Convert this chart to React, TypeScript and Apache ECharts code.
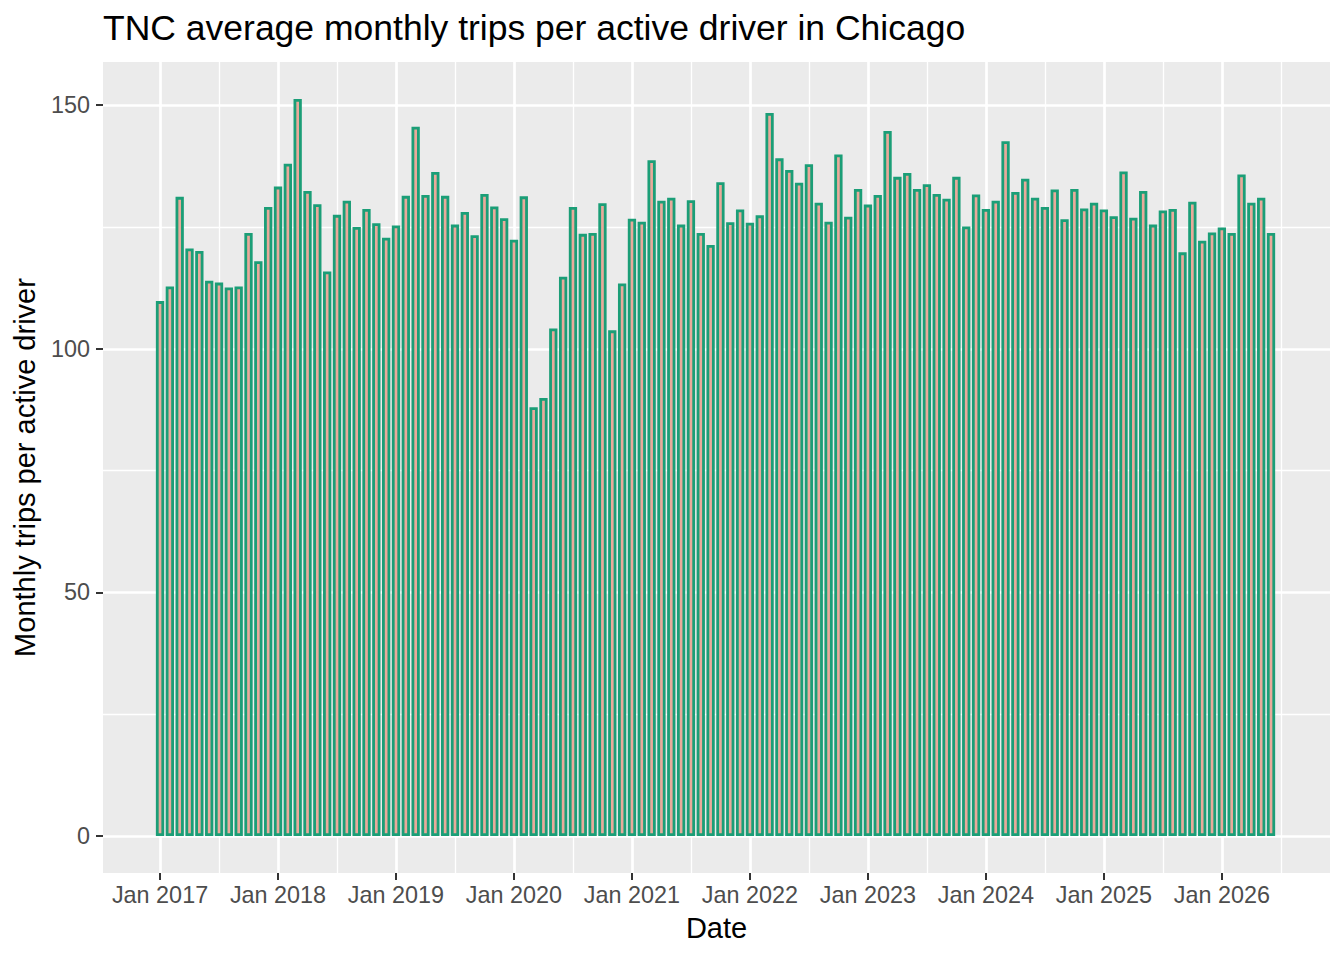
import React, { useEffect, useRef } from "react";
import * as echarts from "echarts";

const FONT = "'Liberation Sans', Arial, Helvetica, sans-serif";

const chartTitle = "TNC average monthly trips per active driver in Chicago";
const xAxisTitle = "Date";
const yAxisTitle = "Monthly trips per active driver";

// Monthly values, Jan 2017 .. Jun 2026
const trips2017 = [109.8, 112.8, 131.2, 120.6, 120.1, 114.0, 113.6, 112.6, 112.8, 123.8, 118.0, 129.1];
const trips2018 = [133.3, 138.0, 151.3, 132.4, 129.7, 115.9, 127.5, 130.4, 125.0, 128.7, 125.8, 122.8];
const trips2019 = [125.3, 131.4, 145.6, 131.6, 136.3, 131.4, 125.5, 128.1, 123.3, 131.8, 129.2, 126.8];
const trips2020 = [122.4, 131.3, 88.0, 89.9, 104.2, 114.8, 129.1, 123.6, 123.8, 129.9, 103.8, 113.4];
const trips2021 = [126.7, 126.1, 138.7, 130.4, 131.0, 125.5, 130.5, 123.8, 121.3, 134.2, 126.0, 128.6];
const trips2022 = [125.9, 127.4, 148.4, 139.1, 136.7, 134.1, 137.9, 130.0, 126.1, 139.9, 127.1, 132.8];
const trips2023 = [129.6, 131.6, 144.7, 135.3, 136.1, 132.8, 133.8, 131.8, 130.8, 135.3, 125.1, 131.7];
const trips2024 = [128.7, 130.4, 142.6, 132.2, 134.9, 131.0, 129.1, 132.7, 126.6, 132.8, 128.8, 130.0];
const trips2025 = [128.6, 127.2, 136.4, 126.9, 132.4, 125.5, 128.4, 128.7, 119.8, 130.2, 122.2, 123.9];
const trips2026 = [124.9, 123.8, 135.8, 130.0, 131.0, 123.8];

const monthlyTrips = [
  ...trips2017, ...trips2018, ...trips2019, ...trips2020, ...trips2021,
  ...trips2022, ...trips2023, ...trips2024, ...trips2025, ...trips2026,
];

// x positions are month indices counted from Jan 2017
const xMajorTicks = [0, 12, 24, 36, 48, 60, 72, 84, 96, 108];
const xTickLabels = ["Jan 2017", "Jan 2018", "Jan 2019", "Jan 2020", "Jan 2021", "Jan 2022", "Jan 2023", "Jan 2024", "Jan 2025", "Jan 2026"];
const xMinorTicks = [6, 18, 30, 42, 54, 66, 78, 90, 102, 114];
const yMajorTicks = [0, 50, 100, 150];
const yMinorTicks = [25, 75, 125];

const X_MIN = -5.8;
const X_MAX = 119;
const Y_MIN = -7.57;
const Y_MAX = 158.87;

export default function App() {
  const ref = useRef<HTMLDivElement>(null);

  useEffect(() => {
    if (!ref.current) return;
    const chart = echarts.init(ref.current, null, { renderer: "svg" });
    const barData = monthlyTrips.map((v, i) => [i, v]);

    chart.setOption({
      animation: false,
      backgroundColor: "#ffffff",
      textStyle: { fontFamily: FONT },
      title: {
        text: chartTitle,
        left: 103,
        top: 10,
        padding: 0,
        textStyle: { fontSize: 35.5, fontWeight: "normal", color: "#000000", fontFamily: FONT },
      },
      grid: {
        left: 103,
        top: 62,
        width: 1227,
        height: 811,
        show: true,
        backgroundColor: "#EBEBEB",
        borderWidth: 0,
      },
      xAxis: [
        {
          type: "value",
          min: X_MIN,
          max: X_MAX,
          position: "bottom",
          axisLine: { show: false, onZero: false },
          axisTick: { show: true, customValues: xMajorTicks, length: 7, lineStyle: { color: "#333333", width: 2 } },
          axisLabel: {
            show: true,
            customValues: xMajorTicks,
            formatter: (v: number) => xTickLabels[xMajorTicks.indexOf(Math.round(v))] ?? "",
            fontSize: 23.4,
            color: "#4D4D4D",
            margin: 10,
            fontFamily: FONT,
          },
          splitLine: { show: true, lineStyle: { color: "#ffffff", width: 2.7 } },
          name: xAxisTitle,
          nameLocation: "middle",
          nameGap: 40,
          nameTextStyle: { fontSize: 29, color: "#000000", fontFamily: FONT },
        },
        {
          type: "value",
          min: X_MIN,
          max: X_MAX,
          position: "bottom",
          axisLine: { show: false, onZero: false },
          axisTick: { show: false, customValues: xMinorTicks },
          axisLabel: { show: false, customValues: xMinorTicks },
          splitLine: { show: true, lineStyle: { color: "#ffffff", width: 1.35 } },
        },
      ],
      yAxis: [
        {
          type: "value",
          min: Y_MIN,
          max: Y_MAX,
          position: "left",
          axisLine: { show: false, onZero: false },
          axisTick: { show: true, customValues: yMajorTicks, length: 7, lineStyle: { color: "#333333", width: 2 } },
          axisLabel: {
            show: true,
            customValues: yMajorTicks,
            formatter: (v: number) => String(Math.round(v)),
            fontSize: 23.4,
            color: "#4D4D4D",
            margin: 13,
            fontFamily: FONT,
          },
          splitLine: { show: true, lineStyle: { color: "#ffffff", width: 2.7 } },
          name: yAxisTitle,
          nameLocation: "middle",
          nameGap: 64,
          nameRotate: 90,
          nameTextStyle: { fontSize: 29, color: "#000000", fontFamily: FONT },
        },
        {
          type: "value",
          min: Y_MIN,
          max: Y_MAX,
          position: "left",
          axisLine: { show: false, onZero: false },
          axisTick: { show: false, customValues: yMinorTicks },
          axisLabel: { show: false, customValues: yMinorTicks },
          splitLine: { show: true, lineStyle: { color: "#ffffff", width: 1.35 } },
        },
      ],
      series: [
        {
          type: "bar",
          xAxisIndex: 0,
          yAxisIndex: 0,
          data: barData,
          barWidth: 8.3,
          silent: true,
          itemStyle: { color: "#E9AA9B", borderColor: "#1B9E77", borderWidth: 2.8 },
        },
      ],
    });

    return () => chart.dispose();
  }, []);

  return (
    <div
      ref={ref}
      style={{ position: "fixed", left: 0, top: 0, width: 1344, height: 960, background: "#ffffff" }}
    />
  );
}
